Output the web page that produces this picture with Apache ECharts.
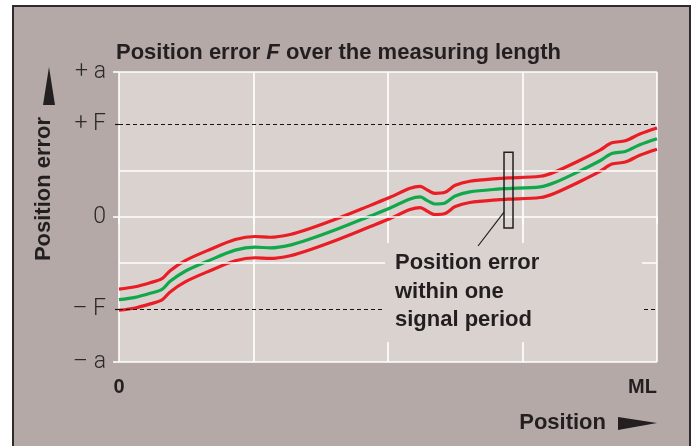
<!DOCTYPE html>
<html>
<head>
<meta charset="utf-8">
<script src="https://cdn.jsdelivr.net/npm/echarts@6/dist/echarts.min.js"></script>
<style>
  html, body { margin: 0; padding: 0; background: #fff; overflow: hidden; }
  #frame {
    position: absolute; left: 12px; top: 5px; width: 675px; height: 460px;
    background: #b4a9a6; border: 2px solid #2f2b2b; border-bottom: none;
  }
  #chart { position: absolute; left: 0; top: 0; width: 698px; height: 446px; }
</style>
</head>
<body>
<div id="frame"></div>
<div id="chart"></div>
<script>
// position along the measuring length (0 .. ML = 100)
const positions = [0, 3, 5.8, 8, 9.5, 12.3, 16.9, 21.6, 25.3, 28.1, 31.8, 35.5, 41.1, 46.7, 50.4, 54.1,
  56, 57.4, 58.7, 60.6, 62.5, 65.2, 70.8, 72.3, 78.3, 81, 85.7, 89.4, 91.6, 94.1, 96.8, 100];
// position error (unit: F)
const centerError = [-0.895, -0.87, -0.826, -0.783, -0.696, -0.587, -0.467, -0.359, -0.326, -0.334, -0.304,
  -0.239, -0.12, 0.011, 0.098, 0.196, 0.217, 0.174, 0.141, 0.152, 0.228, 0.272, 0.304, 0.308, 0.326, 0.373,
  0.5, 0.609, 0.688, 0.71, 0.783, 0.848];
const upperError = [-0.78, -0.755, -0.711, -0.668, -0.581, -0.472, -0.352, -0.244, -0.211, -0.219, -0.189,
  -0.124, -0.005, 0.126, 0.213, 0.311, 0.332, 0.289, 0.256, 0.267, 0.343, 0.387, 0.419, 0.423, 0.441, 0.488,
  0.615, 0.724, 0.803, 0.825, 0.898, 0.963];
const lowerError = [-1.01, -0.985, -0.941, -0.898, -0.811, -0.702, -0.582, -0.474, -0.441, -0.449, -0.419,
  -0.354, -0.235, -0.104, -0.017, 0.081, 0.102, 0.059, 0.026, 0.037, 0.113, 0.157, 0.189, 0.193, 0.211, 0.258,
  0.385, 0.494, 0.573, 0.595, 0.668, 0.733];

const A = 1.57;   // +/- a
const F = 1;      // +/- F
const yOuterTicks = [-A, 0, A];
const yFTicks = [-F, F];
const yGridHalf = [-0.5, 0.5];
const xTickLabels = { 0: "0", 100: "ML" };

// signal period box (position, error range)
const periodBox = { x: 72.4, top: 0.70, bottom: -0.12 };

const plotBg = "#d9d2cf";
const textColor = "#231f20";
const red = "#ea1c24";
const green = "#10a84a";

function yLabel(v) {
  if (Math.abs(v - A) < 1e-6) return "+ a";
  if (Math.abs(v + A) < 1e-6) return "\u2013 a";
  if (Math.abs(v - F) < 1e-6) return "+ F";
  if (Math.abs(v + F) < 1e-6) return "\u2013 F";
  if (Math.abs(v) < 1e-6) return "0";
  return "";
}

function pairs(ys) {
  return positions.map((x, i) => [x, ys[i]]);
}

const myChart = echarts.init(document.getElementById("chart"));

const whiteLine = { color: "#fff", width: 1.6, type: "solid" };
const dashLine = { color: "#151515", width: 1.2, type: [4, 3] };
const yLabelStyle = {
  margin: 13,
  fontFamily: "Roboto",
  fontWeight: 300,
  fontSize: 23,
  color: "#2a2a2a",
  formatter: yLabel
};

const option = {
  backgroundColor: "transparent",
  animation: false,
  title: {
    text: "{b|Position error }{i|F}{b| over the measuring length}",
    left: 111,
    top: 37,
    textStyle: {
      rich: {
        b: { fontFamily: "Liberation Sans", fontWeight: "bold", fontSize: 22, color: textColor },
        i: { fontFamily: "Liberation Sans", fontWeight: "bold", fontStyle: "italic", fontSize: 22, color: textColor }
      }
    }
  },
  grid: {
    left: 119,
    right: 41,
    top: 72,
    bottom: 84,
    show: true,
    backgroundColor: plotBg,
    borderWidth: 0
  },
  xAxis: {
    type: "value",
    min: 0,
    max: 100,
    interval: 25,
    axisLine: { show: false },
    axisTick: { show: true, length: 7, lineStyle: { color: "#fff", width: 1.6 } },
    splitLine: { show: true, lineStyle: { color: "#fff", width: 1.6 } },
    axisLabel: {
      margin: 15,
      fontFamily: "Liberation Sans",
      fontWeight: "bold",
      fontSize: 20,
      color: textColor,
      alignMinLabel: "center",
      alignMaxLabel: "right",
      formatter: function (v) {
        return xTickLabels[v] || "";
      }
    }
  },
  yAxis: [
    {
      type: "value",
      min: -A,
      max: A,
      position: "left",
      axisLine: { show: false },
      splitLine: { show: false },
      axisTick: { show: true, customValues: yOuterTicks, length: 6, lineStyle: { color: "#fff", width: 1.6 } },
      axisLabel: Object.assign({ customValues: yOuterTicks }, yLabelStyle)
    },
    {
      type: "value",
      min: -A,
      max: A,
      position: "left",
      offset: 0,
      axisLine: { show: false },
      splitLine: { show: false },
      axisTick: { show: true, customValues: yFTicks, length: 6, lineStyle: dashLine },
      axisLabel: Object.assign({ customValues: yFTicks }, yLabelStyle)
    }
  ],
  series: [
    {
      // horizontal grid lines
      type: "line",
      data: [],
      z: 1,
      markLine: {
        silent: true,
        symbol: "none",
        label: { show: false },
        animation: false,
        data: [
          { yAxis: A, lineStyle: whiteLine },
          { yAxis: -A, lineStyle: whiteLine },
          { yAxis: 0, lineStyle: whiteLine },
          { yAxis: yGridHalf[0], lineStyle: whiteLine },
          { yAxis: yGridHalf[1], lineStyle: whiteLine },
          { yAxis: yFTicks[0], lineStyle: dashLine },
          { yAxis: yFTicks[1], lineStyle: dashLine }
        ]
      }
    },
    {
      type: "line",
      data: pairs(lowerError),
      smooth: 0.3,
      showSymbol: false,
      z: 3,
      lineStyle: { color: red, width: 3.2 }
    },
    {
      type: "line",
      data: pairs(upperError),
      smooth: 0.3,
      showSymbol: false,
      z: 3,
      lineStyle: { color: red, width: 3.2 }
    },
    {
      type: "line",
      data: pairs(centerError),
      smooth: 0.3,
      showSymbol: false,
      z: 3,
      lineStyle: { color: green, width: 3.2 }
    }
  ]
};
myChart.setOption(option);

// annotation, placed from data coordinates
const boxTop = myChart.convertToPixel({ gridIndex: 0 }, [periodBox.x, periodBox.top]);
const boxBottom = myChart.convertToPixel({ gridIndex: 0 }, [periodBox.x, periodBox.bottom]);
const boxW = 9;
const boxLeft = boxTop[0] - boxW / 2;

myChart.setOption({
  graphic: [
    {
      type: "rect",
      z: 100,
      shape: { x: boxLeft, y: boxTop[1], width: boxW, height: boxBottom[1] - boxTop[1] },
      style: { fill: "none", stroke: "#231f20", lineWidth: 1.5 }
    },
    {
      type: "rect",
      z: 100,
      shape: { x: 385, y: 243, width: 257, height: 99 },
      style: { fill: plotBg }
    },
    {
      type: "line",
      z: 101,
      shape: { x1: boxLeft, y1: boxBottom[1] - 16, x2: boxLeft - 26, y2: 246 },
      style: { stroke: "#231f20", lineWidth: 1.2 }
    },
    {
      type: "text",
      z: 101,
      style: {
        x: 395,
        y: 249,
        text: "Position error\nwithin one\nsignal period",
        font: "bold 22px 'Liberation Sans'",
        lineHeight: 28.5,
        fill: textColor,
        textAlign: "left",
        textVerticalAlign: "top"
      }
    },
    {
      type: "text",
      z: 101,
      x: 44,
      y: 189,
      rotation: Math.PI / 2,
      style: {
        text: "Position error",
        font: "bold 22px 'Liberation Sans'",
        fill: textColor,
        textAlign: "center",
        textVerticalAlign: "middle"
      }
    },
    {
      type: "polygon",
      z: 101,
      shape: { points: [[49, 67], [43, 105], [55, 105]] },
      style: { fill: textColor }
    },
    {
      type: "text",
      z: 101,
      style: {
        x: 606,
        y: 423,
        text: "Position",
        font: "bold 22px 'Liberation Sans'",
        fill: textColor,
        textAlign: "right",
        textVerticalAlign: "middle"
      }
    },
    {
      type: "polygon",
      z: 101,
      shape: { points: [[618, 417], [618, 430], [657, 423]] },
      style: { fill: textColor }
    }
  ]
});
</script>
</body>
</html>
